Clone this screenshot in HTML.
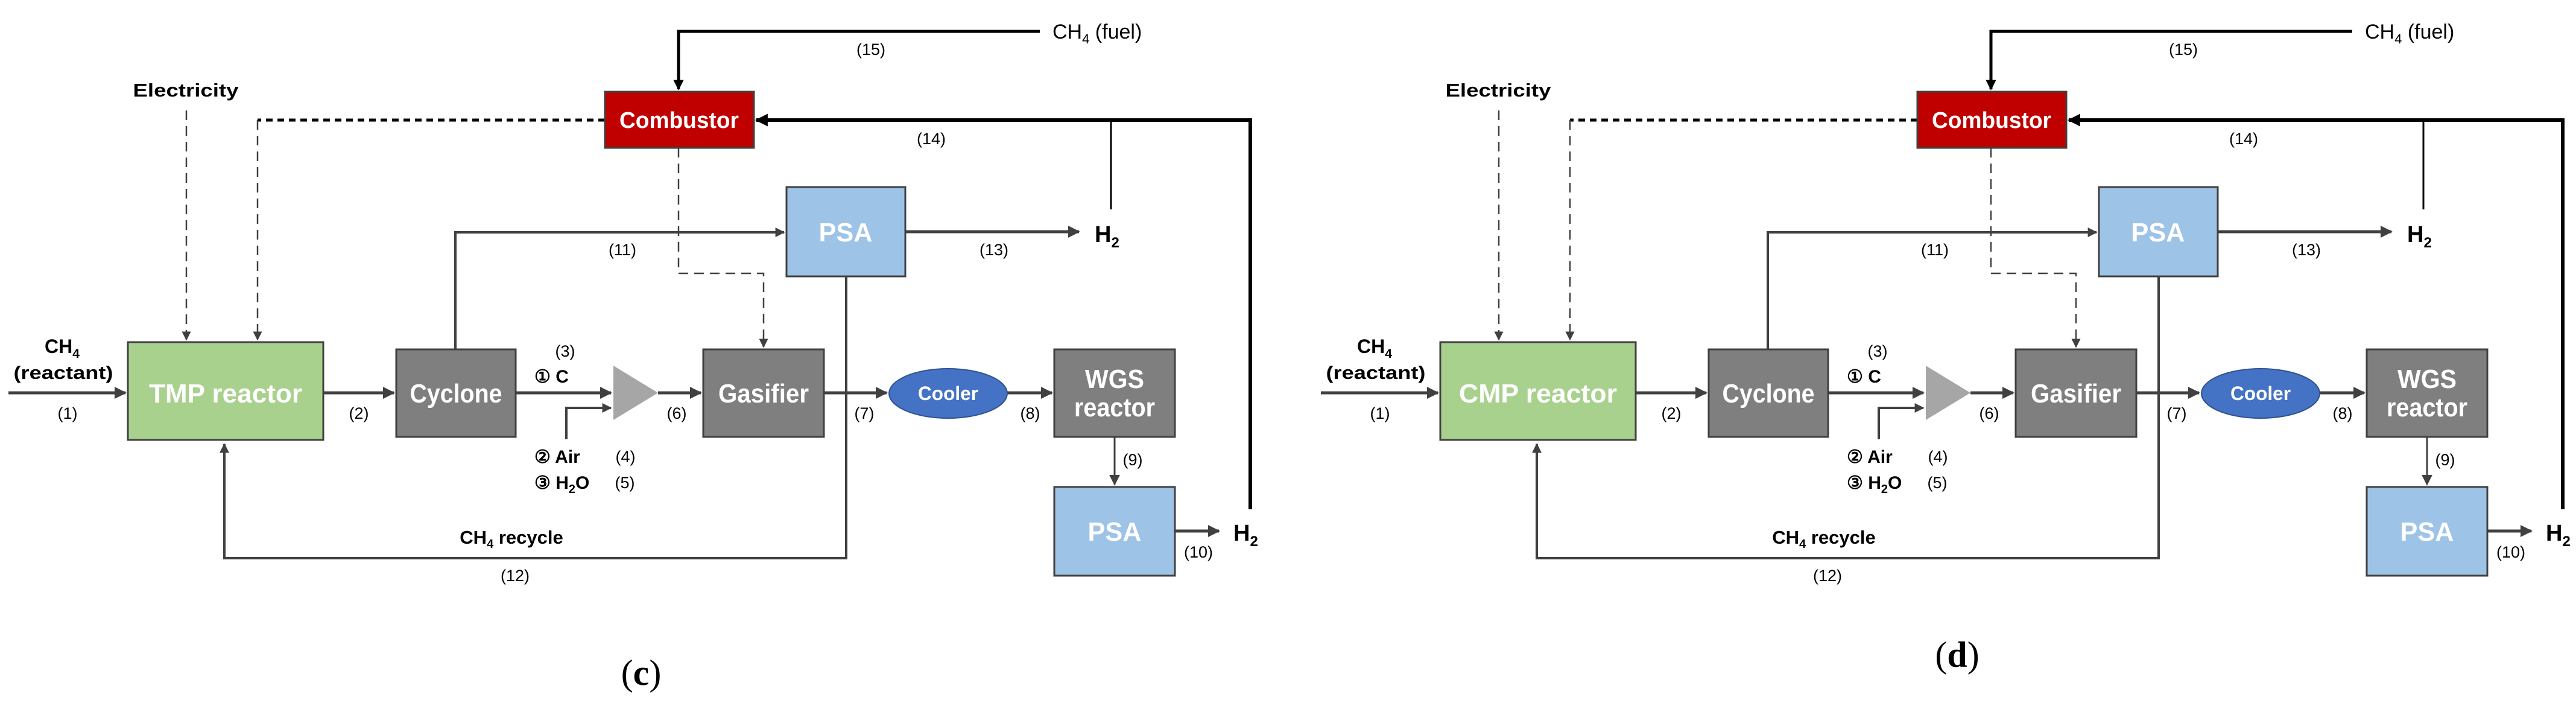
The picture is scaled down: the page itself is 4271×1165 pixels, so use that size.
<!DOCTYPE html>
<html><head><meta charset="utf-8"><style>
html,body{margin:0;padding:0;background:#fff;}
svg{display:block;}
text{font-family:"Liberation Sans Narrow","Liberation Sans",Arial,sans-serif;}
.b{font-weight:bold;}
.lbl{font-size:27px;fill:#000;}
.box{font-size:44px;font-weight:bold;fill:#fff;}
</style></head><body>
<svg width="4271" height="1165" viewBox="0 0 4271 1165" xmlns="http://www.w3.org/2000/svg">
<defs>
<marker id="a" viewBox="0 0 10 10" refX="9" refY="5" markerWidth="4" markerHeight="4" orient="auto" markerUnits="strokeWidth"><path d="M0,0L10,5L0,10z" fill="#404040"/></marker>
<marker id="ab" viewBox="0 0 10 10" refX="9" refY="5" markerWidth="3.5" markerHeight="3.5" orient="auto" markerUnits="strokeWidth"><path d="M0,0L10,5L0,10z" fill="#000"/></marker>
<marker id="as" viewBox="0 0 10 10" refX="9" refY="5" markerWidth="6" markerHeight="6" orient="auto" markerUnits="strokeWidth"><path d="M0,0L10,5L0,10z" fill="#404040"/></marker>
</defs>

<!-- PANEL C -->
<g>
<g fill="none" stroke="#404040">
<path d="M14,651H208" stroke-width="5" marker-end="url(#a)"/>
<path d="M536,651H653" stroke-width="5" marker-end="url(#a)"/>
<path d="M855,651H1013" stroke-width="5" marker-end="url(#a)"/>
<path d="M939,728V676H1013" stroke-width="4" marker-end="url(#a)"/>
<path d="M1091,651H1162" stroke-width="5" marker-end="url(#a)"/>
<path d="M1366,651H1470" stroke-width="5" marker-end="url(#a)"/>
<path d="M1670,651H1744" stroke-width="5" marker-end="url(#a)"/>
<path d="M1848,724V803" stroke-width="3" marker-end="url(#as)"/>
<path d="M1948,880H2021" stroke-width="5" marker-end="url(#a)"/>
<path d="M755,579V385H1300" stroke-width="4" marker-end="url(#a)"/>
<path d="M1501,384H1789" stroke-width="5" marker-end="url(#a)"/>
<path d="M1403,458V925H372V736" stroke-width="4" marker-end="url(#a)"/>
<path d="M309,183V563" stroke-width="2.5" stroke-dasharray="16,10" marker-end="url(#as)"/>
<path d="M1003,199H427" stroke-width="5" stroke-dasharray="11,8" stroke="#000"/>
<path d="M427,199V563" stroke-width="2.5" stroke-dasharray="16,10" marker-end="url(#as)"/>
<path d="M1125,245V453H1266V575" stroke-width="2.5" stroke-dasharray="16,10" marker-end="url(#as)"/>
</g>
<g fill="none" stroke="#000">
<path d="M1724,52H1125V148" stroke-width="5" marker-end="url(#ab)"/>
<path d="M2073,844V199H1254" stroke-width="6" marker-end="url(#ab)"/>
<path d="M1842,347V199" stroke-width="3"/>
</g>
<rect x="212" y="567" width="324" height="162" fill="#a9d18e" stroke="#404040" stroke-width="3"/>
<rect x="657" y="579" width="198" height="145" fill="#7f7f7f" stroke="#404040" stroke-width="3"/>
<polygon points="1017,606 1091,651 1017,696" fill="#a6a6a6"/>
<rect x="1166" y="579" width="200" height="145" fill="#7f7f7f" stroke="#404040" stroke-width="3"/>
<ellipse cx="1572" cy="652" rx="98" ry="41" fill="#4472c4" stroke="#2f528f" stroke-width="2"/>
<rect x="1748" y="579" width="200" height="145" fill="#7f7f7f" stroke="#404040" stroke-width="3"/>
<rect x="1748" y="807" width="200" height="147" fill="#9dc3e6" stroke="#404040" stroke-width="3"/>
<rect x="1304" y="310" width="197" height="148" fill="#9dc3e6" stroke="#404040" stroke-width="3"/>
<rect x="1003" y="152" width="247" height="93" fill="#c00000" stroke="#404040" stroke-width="3"/>
<g text-anchor="middle">
<text class="box" x="374" y="667" textLength="254" lengthAdjust="spacingAndGlyphs">TMP reactor</text>
<text class="box" x="756" y="667" textLength="153" lengthAdjust="spacingAndGlyphs">Cyclone</text>
<text class="box" x="1266" y="667" textLength="150" lengthAdjust="spacingAndGlyphs">Gasifier</text>
<text class="box" x="1572" y="663" style="font-size:32px" textLength="100" lengthAdjust="spacingAndGlyphs">Cooler</text>
<text class="box" x="1848" y="643" textLength="98" lengthAdjust="spacingAndGlyphs">WGS</text>
<text class="box" x="1848" y="690" textLength="134" lengthAdjust="spacingAndGlyphs">reactor</text>
<text class="box" x="1848" y="896" textLength="89" lengthAdjust="spacingAndGlyphs">PSA</text>
<text class="box" x="1402" y="400" textLength="89" lengthAdjust="spacingAndGlyphs">PSA</text>
<text class="box" x="1126" y="212" style="font-size:38px" textLength="198" lengthAdjust="spacingAndGlyphs">Combustor</text>
<text class="lbl b" x="308" y="160" style="font-size:31px" textLength="175" lengthAdjust="spacingAndGlyphs">Electricity</text>
<text class="lbl b" x="103" y="585" style="font-size:32px">CH<tspan dy="8" font-size="21">4</tspan></text>
<text class="lbl b" x="105" y="628" style="font-size:31px" textLength="165" lengthAdjust="spacingAndGlyphs">(reactant)</text>
<text class="lbl" x="112" y="694">(1)</text>
<text class="lbl" x="595" y="694">(2)</text>
<text class="lbl" x="937" y="591">(3)</text>
<text class="lbl" x="1122" y="694">(6)</text>
<text class="lbl" x="1433" y="694">(7)</text>
<text class="lbl" x="1708" y="694">(8)</text>
<text class="lbl" x="1878" y="771">(9)</text>
<text class="lbl" x="1987" y="924">(10)</text>
<text class="lbl" x="1037" y="766">(4)</text>
<text class="lbl" x="1036" y="809">(5)</text>
<text class="lbl" x="1444" y="91">(15)</text>
<text class="lbl" x="1544" y="239">(14)</text>
<text class="lbl" x="1032" y="423">(11)</text>
<text class="lbl" x="1648" y="423">(13)</text>
<text class="lbl" x="854" y="963">(12)</text>
<text class="lbl b" x="848" y="901" style="font-size:31px">CH<tspan dy="7" font-size="20">4</tspan><tspan dy="-7"> recycle</tspan></text>
<text x="1063" y="1135" style="font-family:'Liberation Serif',serif;font-size:60px;fill:#000">(<tspan font-weight="bold">c</tspan>)</text>
</g>
<text class="lbl b" x="886" y="634" style="font-size:30px">① C</text>
<text class="lbl b" x="886" y="767" style="font-size:30px">② Air</text>
<text class="lbl b" x="886" y="810" style="font-size:30px">③ H<tspan dy="7" font-size="20">2</tspan><tspan dy="-7">O</tspan></text>
<text class="lbl" x="1745" y="64" style="font-size:34px">CH<tspan dy="8" font-size="22">4</tspan><tspan dy="-8"> (fuel)</tspan></text>
<text class="lbl b" x="1815" y="401" style="font-size:38px">H<tspan dy="9" font-size="24">2</tspan></text>
<text class="lbl b" x="2045" y="896" style="font-size:38px">H<tspan dy="9" font-size="24">2</tspan></text>
</g>

<!-- PANEL D -->
<g transform="translate(2176,0)">
<g fill="none" stroke="#404040">
<path d="M14,651H208" stroke-width="5" marker-end="url(#a)"/>
<path d="M536,651H653" stroke-width="5" marker-end="url(#a)"/>
<path d="M855,651H1013" stroke-width="5" marker-end="url(#a)"/>
<path d="M939,728V676H1013" stroke-width="4" marker-end="url(#a)"/>
<path d="M1091,651H1162" stroke-width="5" marker-end="url(#a)"/>
<path d="M1366,651H1470" stroke-width="5" marker-end="url(#a)"/>
<path d="M1670,651H1744" stroke-width="5" marker-end="url(#a)"/>
<path d="M1848,724V803" stroke-width="3" marker-end="url(#as)"/>
<path d="M1948,880H2021" stroke-width="5" marker-end="url(#a)"/>
<path d="M755,579V385H1300" stroke-width="4" marker-end="url(#a)"/>
<path d="M1501,384H1789" stroke-width="5" marker-end="url(#a)"/>
<path d="M1403,458V925H372V736" stroke-width="4" marker-end="url(#a)"/>
<path d="M309,183V563" stroke-width="2.5" stroke-dasharray="16,10" marker-end="url(#as)"/>
<path d="M1003,199H427" stroke-width="5" stroke-dasharray="11,8" stroke="#000"/>
<path d="M427,199V563" stroke-width="2.5" stroke-dasharray="16,10" marker-end="url(#as)"/>
<path d="M1125,245V453H1266V575" stroke-width="2.5" stroke-dasharray="16,10" marker-end="url(#as)"/>
</g>
<g fill="none" stroke="#000">
<path d="M1724,52H1125V148" stroke-width="5" marker-end="url(#ab)"/>
<path d="M2073,844V199H1254" stroke-width="6" marker-end="url(#ab)"/>
<path d="M1842,347V199" stroke-width="3"/>
</g>
<rect x="212" y="567" width="324" height="162" fill="#a9d18e" stroke="#404040" stroke-width="3"/>
<rect x="657" y="579" width="198" height="145" fill="#7f7f7f" stroke="#404040" stroke-width="3"/>
<polygon points="1017,606 1091,651 1017,696" fill="#a6a6a6"/>
<rect x="1166" y="579" width="200" height="145" fill="#7f7f7f" stroke="#404040" stroke-width="3"/>
<ellipse cx="1572" cy="652" rx="98" ry="41" fill="#4472c4" stroke="#2f528f" stroke-width="2"/>
<rect x="1748" y="579" width="200" height="145" fill="#7f7f7f" stroke="#404040" stroke-width="3"/>
<rect x="1748" y="807" width="200" height="147" fill="#9dc3e6" stroke="#404040" stroke-width="3"/>
<rect x="1304" y="310" width="197" height="148" fill="#9dc3e6" stroke="#404040" stroke-width="3"/>
<rect x="1003" y="152" width="247" height="93" fill="#c00000" stroke="#404040" stroke-width="3"/>
<g text-anchor="middle">
<text class="box" x="374" y="667" textLength="262" lengthAdjust="spacingAndGlyphs">CMP reactor</text>
<text class="box" x="756" y="667" textLength="153" lengthAdjust="spacingAndGlyphs">Cyclone</text>
<text class="box" x="1266" y="667" textLength="150" lengthAdjust="spacingAndGlyphs">Gasifier</text>
<text class="box" x="1572" y="663" style="font-size:32px" textLength="100" lengthAdjust="spacingAndGlyphs">Cooler</text>
<text class="box" x="1848" y="643" textLength="98" lengthAdjust="spacingAndGlyphs">WGS</text>
<text class="box" x="1848" y="690" textLength="134" lengthAdjust="spacingAndGlyphs">reactor</text>
<text class="box" x="1848" y="896" textLength="89" lengthAdjust="spacingAndGlyphs">PSA</text>
<text class="box" x="1402" y="400" textLength="89" lengthAdjust="spacingAndGlyphs">PSA</text>
<text class="box" x="1126" y="212" style="font-size:38px" textLength="198" lengthAdjust="spacingAndGlyphs">Combustor</text>
<text class="lbl b" x="308" y="160" style="font-size:31px" textLength="175" lengthAdjust="spacingAndGlyphs">Electricity</text>
<text class="lbl b" x="103" y="585" style="font-size:32px">CH<tspan dy="8" font-size="21">4</tspan></text>
<text class="lbl b" x="105" y="628" style="font-size:31px" textLength="165" lengthAdjust="spacingAndGlyphs">(reactant)</text>
<text class="lbl" x="112" y="694">(1)</text>
<text class="lbl" x="595" y="694">(2)</text>
<text class="lbl" x="937" y="591">(3)</text>
<text class="lbl" x="1122" y="694">(6)</text>
<text class="lbl" x="1433" y="694">(7)</text>
<text class="lbl" x="1708" y="694">(8)</text>
<text class="lbl" x="1878" y="771">(9)</text>
<text class="lbl" x="1987" y="924">(10)</text>
<text class="lbl" x="1037" y="766">(4)</text>
<text class="lbl" x="1036" y="809">(5)</text>
<text class="lbl" x="1444" y="91">(15)</text>
<text class="lbl" x="1544" y="239">(14)</text>
<text class="lbl" x="1032" y="423">(11)</text>
<text class="lbl" x="1648" y="423">(13)</text>
<text class="lbl" x="854" y="963">(12)</text>
<text class="lbl b" x="848" y="901" style="font-size:31px">CH<tspan dy="7" font-size="20">4</tspan><tspan dy="-7"> recycle</tspan></text>
<text x="1069" y="1105" style="font-family:'Liberation Serif',serif;font-size:60px;fill:#000">(<tspan font-weight="bold">d</tspan>)</text>
</g>
<text class="lbl b" x="886" y="634" style="font-size:30px">① C</text>
<text class="lbl b" x="886" y="767" style="font-size:30px">② Air</text>
<text class="lbl b" x="886" y="810" style="font-size:30px">③ H<tspan dy="7" font-size="20">2</tspan><tspan dy="-7">O</tspan></text>
<text class="lbl" x="1745" y="64" style="font-size:34px">CH<tspan dy="8" font-size="22">4</tspan><tspan dy="-8"> (fuel)</tspan></text>
<text class="lbl b" x="1815" y="401" style="font-size:38px">H<tspan dy="9" font-size="24">2</tspan></text>
<text class="lbl b" x="2045" y="896" style="font-size:38px">H<tspan dy="9" font-size="24">2</tspan></text>
</g>
</svg>
</body></html>
